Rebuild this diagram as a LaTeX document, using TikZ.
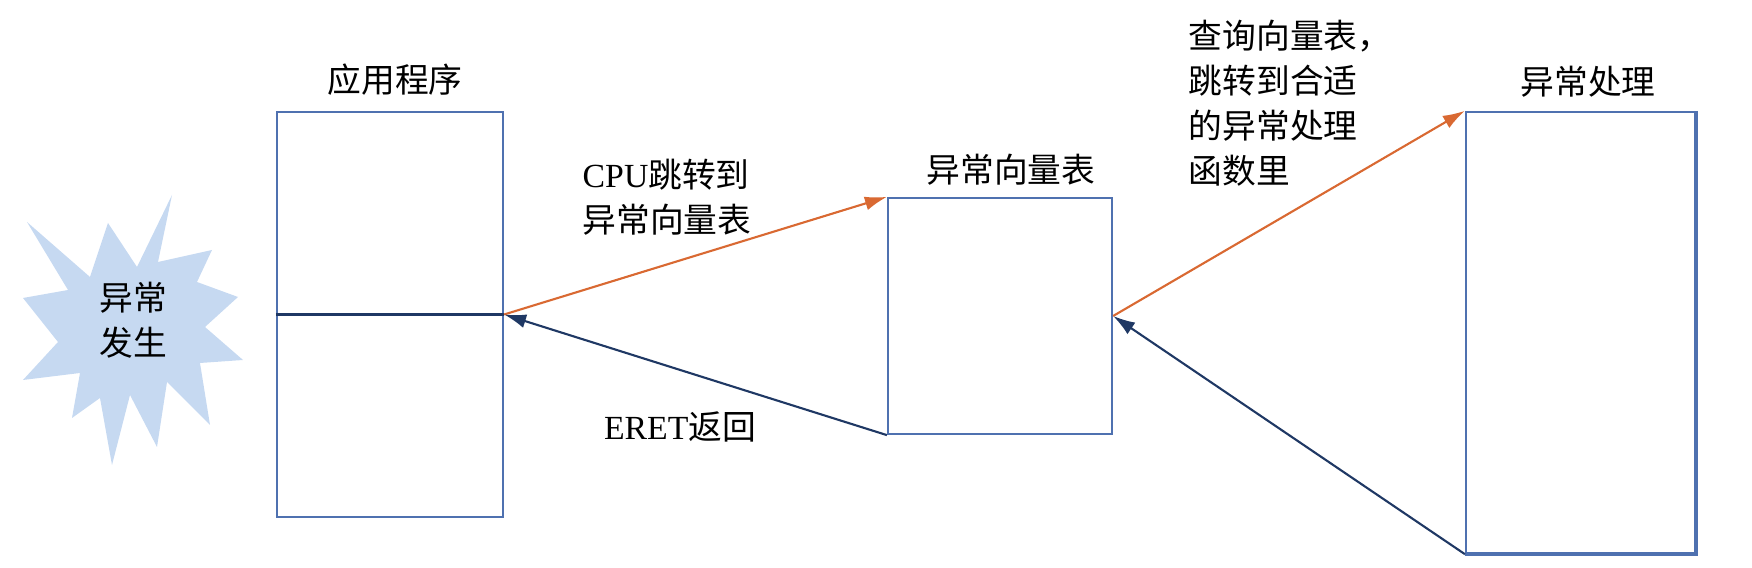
\documentclass[tikz,border=0pt]{standalone}
\usepackage{fontspec}
\setmainfont{Liberation Serif}
\newfontfamily\cjk{Noto Sans CJK SC}
\usetikzlibrary{arrows.meta}
\definecolor{boxblue}{RGB}{79,113,176}
\definecolor{jumporange}{RGB}{217,105,50}
\definecolor{retnavy}{RGB}{31,56,100}
\definecolor{burstblue}{RGB}{198,217,241}

\begin{document}
\begin{tikzpicture}[x=0.01cm,y=-0.01cm,
	box/.style={draw=boxblue,line width=0.6pt,inner sep=0pt},
	lbl/.style={font=\cjk\fontsize{9.6}{12.8}\selectfont,inner sep=0pt,align=left},
	jump/.style={draw=jumporange,line width=0.6pt,-{Latex[length=2.2mm,width=1.4mm]}},
	back/.style={draw=retnavy,line width=0.6pt,-{Latex[length=2.2mm,width=1.4mm]}}]
	\useasboundingbox (0,0) rectangle (1752,568);
	% the burst on the left
	\fill[burstblue] (172,195) -- (158,262) -- (212,250) -- (197,282) -- (238,297) -- (205,327)
		-- (243,360) -- (200,363) -- (210,425) -- (167,382) -- (157,447) -- (130,395)
		-- (112,465) -- (100,398) -- (72,418) -- (80,373) -- (23,380) -- (58,342)
		-- (23,298) -- (68,290) -- (27,222) -- (90,277) -- (108,223) -- (137,267) -- cycle;
	\node[lbl,align=center] (burst) at (133,320) {异常\\发生};
	% boxes
	\node[box,minimum width=2.26cm,minimum height=4.05cm] (app) at (390,314.5) {};
	\draw[retnavy,line width=0.8pt] (app.west) -- (app.east);
	\node[box,minimum width=2.24cm,minimum height=2.36cm] (vectab) at (1000,316) {};
	\node[box,minimum width=2.29cm,minimum height=4.41cm] (handler) at (1580.5,332.5) {};
	\draw[boxblue,line width=1pt] (handler.north east) -- (handler.south east) -- (handler.south west);
	\node[lbl] (applabel) at (395,80) {应用程序};
	\node[lbl] (veclabel) at (1011,170) {异常向量表};
	\node[lbl] (hdllabel) at (1588,82) {异常处理};
	% arrows
	\draw[jump] (app.east) -- (vectab.north west);
	\draw[back] (vectab.south west) -- (app.east);
	\draw[jump] (vectab.east) -- (handler.north west);
	\draw[back] (handler.south west) -- (vectab.east);
	\node[lbl,anchor=west] (cpujump) at (582,197.5) {{\rmfamily CPU}跳转到\\异常向量表};
	\node[lbl] (eret) at (680,427) {{\rmfamily ERET}返回};
	\node[lbl,anchor=west] (lookup) at (1188,103.5) {查询向量表，\\跳转到合适\\的异常处理\\函数里};
\end{tikzpicture}
\end{document}
